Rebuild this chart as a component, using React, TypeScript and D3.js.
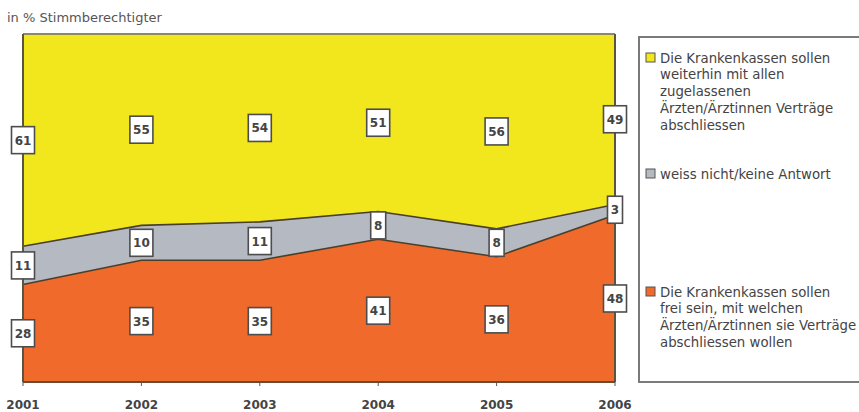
import React from 'react';
import * as d3 from 'd3';

const years = ['2001', '2002', '2003', '2004', '2005', '2006'];
const freiValues = [28, 35, 35, 41, 36, 48];
const weissValues = [11, 10, 11, 8, 8, 3];
const alleValues = [61, 55, 54, 51, 56, 49];
const seriesKeys = ['frei', 'weiss', 'alle'];
const seriesColors = ['#EF6A2B', '#B5B9C1', '#F2E61C'];
const legendAlle = ['Die Krankenkassen sollen', 'weiterhin mit allen', 'zugelassenen', 'Ärzten/Ärztinnen Verträge', 'abschliessen'];
const legendWeiss = ['weiss nicht/keine Antwort'];
const legendFrei = ['Die Krankenkassen sollen', 'frei sein, mit welchen', 'Ärzten/Ärztinnen sie Verträge', 'abschliessen wollen'];
const axisTitle = 'in % Stimmberechtigter';

const W = 859;
const H = 412;
const left = 23, right = 615, top = 34, bottom = 382;
const FONT = "'DejaVu Sans', Verdana, sans-serif";

export default function App() {
  const rows = years.map((yr, i) => ({ year: yr, frei: freiValues[i], weiss: weissValues[i], alle: alleValues[i] }));
  const x = d3.scalePoint<string>().domain(years).range([left, right]);
  const y = d3.scaleLinear().domain([0, 100]).range([bottom, top]);
  const stacked = d3.stack<any>().keys(seriesKeys)(rows);
  const area = d3.area<any>()
    .x((d) => x(d.data.year) as number)
    .y0((d) => y(d[0]))
    .y1((d) => y(d[1]));
  const line = d3.line<any>()
    .x((d) => x(d.data.year) as number)
    .y((d) => y(d[1]));

  const legendGroups = [
    { lines: legendAlle, color: seriesColors[2], y0: 58 },
    { lines: legendWeiss, color: seriesColors[1], y0: 174 },
    { lines: legendFrei, color: seriesColors[0], y0: 292 },
  ];
  const lh = 16.8;

  return (
    <svg width={W} height={H} style={{ position: 'absolute', left: 0, top: 0, background: '#fff' }}>
      <text x={7} y={22} fontFamily={FONT} fontSize={13} fill="#555">{axisTitle}</text>
      {stacked.map((s, i) => (
        <path key={s.key} d={area(s) || ''} fill={seriesColors[i]} />
      ))}
      {stacked.slice(0, 2).map((s) => (
        <path key={'l' + s.key} d={line(s) || ''} fill="none" stroke="#4a3f2a" strokeWidth={1.6} />
      ))}
      <line x1={left} x2={right} y1={top} y2={top} stroke="#8d8a5e" strokeWidth={2} />
      <line x1={left} x2={left} y1={top} y2={bottom} stroke="#5a5540" strokeWidth={2} />
      <line x1={right} x2={right} y1={top} y2={bottom} stroke="#5a5540" strokeWidth={2} />
      <line x1={left} x2={right} y1={bottom} y2={bottom} stroke="#6b4a30" strokeWidth={2} />
      {years.map((yr) => (
        <g key={'t' + yr}>
          <line x1={x(yr)} x2={x(yr)} y1={bottom} y2={bottom + 4} stroke="#555" strokeWidth={1} />
          <text x={x(yr)} y={409} textAnchor="middle" fontFamily={FONT} fontSize={12} fontWeight="bold" fill="#444">{yr}</text>
        </g>
      ))}
      {stacked.map((s) =>
        s.map((d: any) => {
          const v = d[1] - d[0];
          const cx = x(d.data.year) as number;
          const cy = (y(d[0]) + y(d[1])) / 2;
          const label = String(v);
          const bw = label.length === 1 ? 15 : 23;
          const bh = 27;
          return (
            <g key={s.key + d.data.year}>
              <rect x={cx - bw / 2} y={cy - bh / 2} width={bw} height={bh} fill="#fff" stroke="#4d4d4d" strokeWidth={1.6} />
              <text x={cx} y={cy + 4.5} textAnchor="middle" fontFamily={FONT} fontSize={12} fontWeight="bold" fill="#444">{label}</text>
            </g>
          );
        })
      )}
      <rect x={639} y={37} width={240} height={345} fill="#fff" stroke="#7a7a7a" strokeWidth={2} />
      {legendGroups.map((g, gi) => (
        <g key={'lg' + gi}>
          <rect x={646} y={g.y0 - 5} width={9} height={9} fill={g.color} stroke="#555" strokeWidth={1} />
          {g.lines.map((t, li) => (
            <text key={li} x={660} y={g.y0 + 4.5 + li * lh} fontFamily={FONT} fontSize={13.3} fill="#444">{t}</text>
          ))}
        </g>
      ))}
    </svg>
  );
}
